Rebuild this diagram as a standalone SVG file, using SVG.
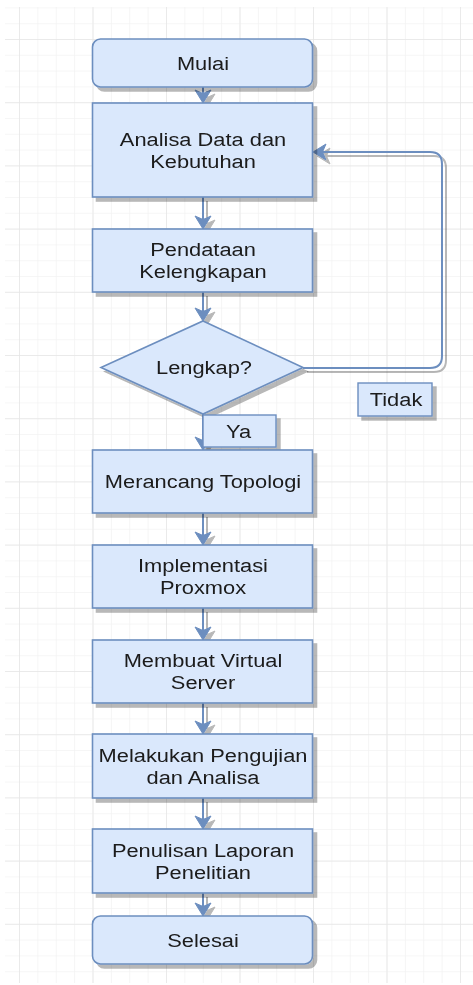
<svg xmlns="http://www.w3.org/2000/svg" width="473" height="985" viewBox="0 0 473 985">
<style>
.box{fill:#dae8fc;stroke:#6c8ebf;stroke-width:1.6}
.lbl{fill:#dae8fc;stroke:#6c8ebf;stroke-width:1.4}
.t{font-family:"Liberation Sans",Arial,sans-serif;font-size:19px;fill:#1a1a1a;text-anchor:middle}
.c{fill:none;stroke:#6c8ebf;stroke-width:2}
</style>
<defs>
<pattern id="minor" patternUnits="userSpaceOnUse" x="19" y="39" width="18.375" height="15.8">
<path d="M0,0 V15.8 M0,0 H18.375" fill="none" stroke="#f3f3f3" stroke-width="1.5"/>
</pattern>
<pattern id="major" patternUnits="userSpaceOnUse" x="19" y="39" width="73.5" height="63.2">
<path d="M0,0 V63.2 M0,0 H73.5" fill="none" stroke="#e6e6e6" stroke-width="1.5"/>
</pattern>
<filter id="sh" filterUnits="userSpaceOnUse" x="0" y="0" width="473" height="985">
<feOffset in="SourceAlpha" dx="4" dy="4" result="o"/>
<feComponentTransfer in="o" result="s"><feFuncA type="linear" slope="0.28"/></feComponentTransfer>
<feMerge><feMergeNode in="s"/><feMergeNode in="SourceGraphic"/></feMerge>
</filter>
<marker id="arr" markerUnits="userSpaceOnUse" viewBox="-10 -9 15 18" refX="0" refY="0" markerWidth="15" markerHeight="18" orient="auto">
<path d="M4,0 L-9,-8 L-5.5,0 L-9,8 Z" fill="#6c8ebf" stroke="#6c8ebf" stroke-width="1"/>
</marker>
</defs>
<rect width="473" height="985" fill="#ffffff"/>
<g id="grid">
<rect x="5" y="7" width="468" height="976" fill="url(#minor)"/>
<rect x="5" y="7" width="468" height="976" fill="url(#major)"/>
</g>
<g id="connectors" filter="url(#sh)">
<path class="c" marker-end="url(#arr)" d="M203,87 V99"/>
<path class="c" marker-end="url(#arr)" d="M203,197 V225"/>
<path class="c" marker-end="url(#arr)" d="M203,292 V317"/>
<path class="c" marker-end="url(#arr)" d="M203,414 V446"/>
<path class="c" marker-end="url(#arr)" d="M203,513 V541"/>
<path class="c" marker-end="url(#arr)" d="M203,608 V636"/>
<path class="c" marker-end="url(#arr)" d="M203,703 V730"/>
<path class="c" marker-end="url(#arr)" d="M203,798 V825"/>
<path class="c" marker-end="url(#arr)" d="M203,893 V912"/>
<path class="c" marker-end="url(#arr)" d="M303,368 H430 Q442,368 442,356 V164 Q442,152 430,152 H317"/>
</g>
<g id="mulai" filter="url(#sh)">
<rect class="box" x="92.5" y="39" width="220" height="48" rx="8"/>
<text class="t" transform="translate(203,69.5) scale(1.15,1)">Mulai</text>
</g>
<g id="analisa" filter="url(#sh)">
<rect class="box" x="92.5" y="103" width="220" height="94"/>
<text class="t" transform="translate(203,150) scale(1.15,1)"><tspan x="0" y="-4.5">Analisa Data dan</tspan><tspan x="0" y="17.5">Kebutuhan</tspan></text>
</g>
<g id="pendataan" filter="url(#sh)">
<rect class="box" x="92.5" y="229" width="220" height="63"/>
<text class="t" transform="translate(203,260.5) scale(1.15,1)"><tspan x="0" y="-4.5">Pendataan</tspan><tspan x="0" y="17.5">Kelengkapan</tspan></text>
</g>
<g id="lengkap" filter="url(#sh)">
<polygon class="box" points="203,321 303,367.5 203,414 101,367.5"/>
<text class="t" transform="translate(204,374) scale(1.15,1)">Lengkap?</text>
</g>
<g id="tidak" filter="url(#sh)">
<rect class="lbl" x="358" y="383" width="74" height="33"/>
<text class="t" transform="translate(396,406) scale(1.15,1)">Tidak</text>
</g>
<g id="ya" filter="url(#sh)">
<rect class="lbl" x="203" y="415" width="73" height="32"/>
<text class="t" transform="translate(238.5,437.5) scale(1.15,1)">Ya</text>
</g>
<g id="merancang" filter="url(#sh)">
<rect class="box" x="92.5" y="450" width="220" height="63"/>
<text class="t" transform="translate(203,488) scale(1.15,1)">Merancang Topologi</text>
</g>
<g id="implementasi" filter="url(#sh)">
<rect class="box" x="92.5" y="545" width="220" height="63"/>
<text class="t" transform="translate(203,576.5) scale(1.15,1)"><tspan x="0" y="-4.5">Implementasi</tspan><tspan x="0" y="17.5">Proxmox</tspan></text>
</g>
<g id="membuat" filter="url(#sh)">
<rect class="box" x="92.5" y="640" width="220" height="63"/>
<text class="t" transform="translate(203,671.5) scale(1.15,1)"><tspan x="0" y="-4.5">Membuat Virtual</tspan><tspan x="0" y="17.5">Server</tspan></text>
</g>
<g id="melakukan" filter="url(#sh)">
<rect class="box" x="92.5" y="734" width="220" height="64"/>
<text class="t" transform="translate(203,766) scale(1.15,1)"><tspan x="0" y="-4.5">Melakukan Pengujian</tspan><tspan x="0" y="17.5">dan Analisa</tspan></text>
</g>
<g id="penulisan" filter="url(#sh)">
<rect class="box" x="92.5" y="829" width="220" height="64"/>
<text class="t" transform="translate(203,861) scale(1.15,1)"><tspan x="0" y="-4.5">Penulisan Laporan</tspan><tspan x="0" y="17.5">Penelitian</tspan></text>
</g>
<g id="selesai" filter="url(#sh)">
<rect class="box" x="92.5" y="916" width="220" height="48" rx="8"/>
<text class="t" transform="translate(203,946.5) scale(1.15,1)">Selesai</text>
</g>
</svg>
